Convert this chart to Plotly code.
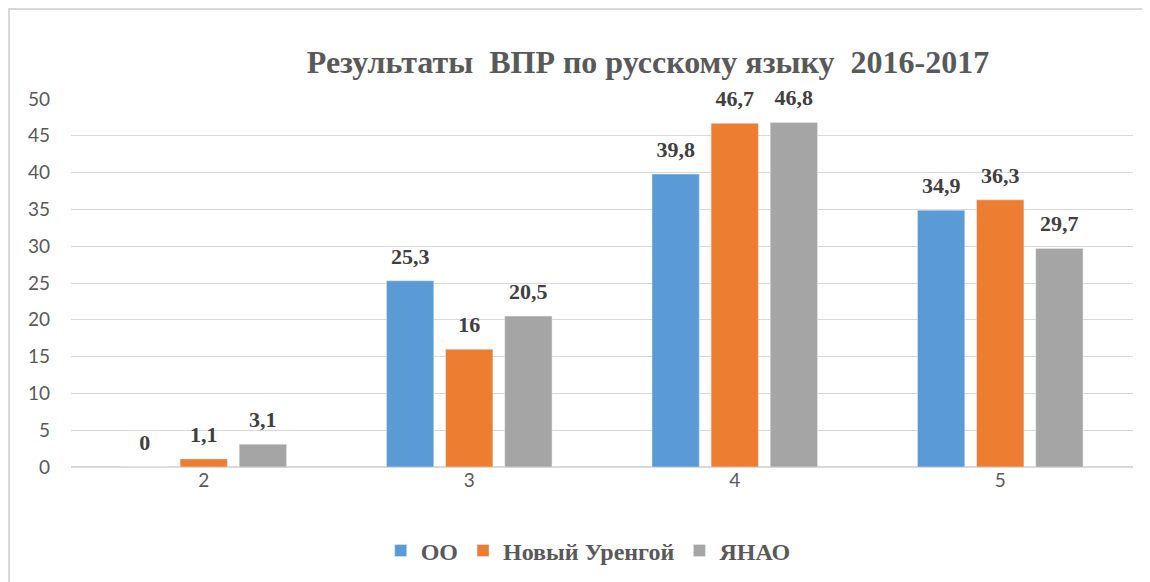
import plotly.graph_objects as go

categories = ["2", "3", "4", "5"]
series_names = ["ОО", "Новый Уренгой", "ЯНАО"]
oo = [0, 25.3, 39.8, 34.9]
nu = [1.1, 16, 46.7, 36.3]
yanao = [3.1, 20.5, 46.8, 29.7]
colors = ["#5B9BD5", "#ED7D31", "#A5A5A5"]
y_ticks = [0, 5, 10, 15, 20, 25, 30, 35, 40, 45, 50]

SERIF = "Liberation Serif, Times New Roman, serif"

def fmt(v):
    s = ("%g" % v)
    return "<b>" + s.replace(".", ",") + "</b>"

fig = go.Figure()
for i, (name, vals, col) in enumerate(zip(series_names, [oo, nu, yanao], colors)):
    fig.add_trace(go.Bar(
        x=categories, y=vals, name="<b>" + name + "</b>", marker_color=col,
        offsetgroup=str(i), alignmentgroup="a",
    ))
for i, vals in enumerate([oo, nu, yanao]):
    fig.add_trace(go.Scatter(
        x=categories, y=vals, mode="markers+text", showlegend=False,
        offsetgroup=str(i), alignmentgroup="a",
        marker=dict(size=17, color="rgba(0,0,0,0)"),
        text=[fmt(v) for v in vals], textposition="top center",
        textfont=dict(family=SERIF, size=22, color="#404040"),
        cliponaxis=False, hoverinfo="skip",
    ))

fig.update_layout(
    width=1150, height=582,
    paper_bgcolor="white", plot_bgcolor="white",
    margin=dict(l=63, r=25, t=91, b=123),
    barmode="group", bargap=0.332, bargroupgap=0.2,
    scattermode="group", scattergap=0.332,
    title=dict(text="<b>Результаты  ВПР по русскому языку  2016-2017</b>",
               x=0.5565, xanchor="center", y=0.907, yanchor="middle",
               font=dict(family=SERIF, size=32, color="#595959")),
    legend=dict(orientation="h", x=0.487, xanchor="center", y=-0.228, yanchor="middle",
                font=dict(family=SERIF, size=24, color="#595959"),
                itemwidth=30, traceorder="normal"),
)
fig.update_yaxes(range=[0, 50], tickvals=y_ticks, showgrid=True, gridcolor="#D9D9D9",
                 gridwidth=1, zeroline=True, zerolinecolor="#D9D9D9", showline=False,
                 tickfont=dict(family="Lato", size=19, color="#595959"), ticks="",
                 ticklabelstandoff=20, automargin=False)
fig.update_xaxes(tickfont=dict(family="Lato", size=19, color="#595959"), showline=False,
                 ticks="", automargin=False)

fig.add_shape(type="rect", xref="paper", yref="paper",
              x0=-0.0584, x1=1.05, y0=-0.5, y1=1.2446,
              line=dict(color="#D9D9D9", width=2), fillcolor="rgba(0,0,0,0)", layer="below")

fig.write_html("out.html")
